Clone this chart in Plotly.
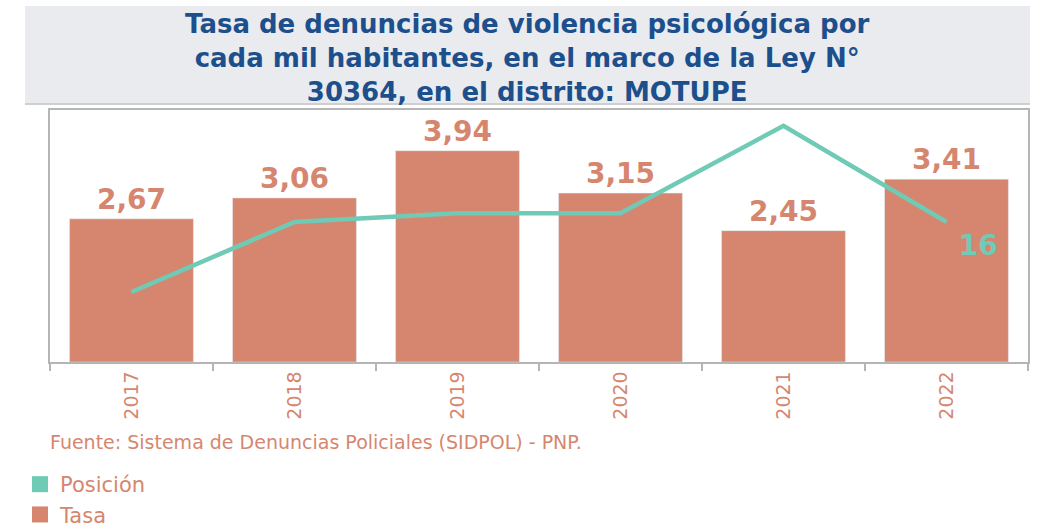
import plotly.graph_objects as go

years = ["2017", "2018", "2019", "2020", "2021", "2022"]
tasa = [2.67, 3.06, 3.94, 3.15, 2.45, 3.41]
posicion = [8, 16, 17, 17, 27, 16]
pos_labels = ["", "", "", "", "", "16"]

title_text = ("Tasa de denuncias de violencia psicológica por<br>"
              "cada mil habitantes, en el marco de la Ley N°<br>"
              "30364, en el distrito: MOTUPE")
source_text = "Fuente: Sistema de Denuncias Policiales (SIDPOL) - PNP."

BAR = "#d6866e"
LINE = "#6fcab6"
TITLE_C = "#1d4f8c"
FONT = "DejaVu Sans"

W, H = 1048, 531
L, R, T, B = 50, 20, 110, 169
pw, ph = W - L - R, H - T - B

def px_x(x):
    return (x - L) / pw

def px_y(y):
    return (H - B - y) / ph

fig = go.Figure()

fig.add_trace(go.Bar(
    x=years, y=tasa, marker_color=BAR, showlegend=False,
    texttemplate="%{y:.2f}", textposition="outside", cliponaxis=False,
    textfont=dict(family=FONT, size=28, color=BAR, weight="bold"),
    hoverinfo="skip",
))

fig.add_trace(go.Scatter(
    x=years, y=posicion, yaxis="y2", mode="lines+markers+text",
    line=dict(color=LINE, width=4.5), text=pos_labels,
    marker=dict(size=18, color="rgba(0,0,0,0)"),
    textposition="bottom right", cliponaxis=False,
    textfont=dict(family=FONT, size=28, color=LINE, weight="bold"),
    showlegend=False, hoverinfo="skip",
))

# legend entries
fig.add_trace(go.Scatter(x=[None], y=[None], mode="markers", name="Posición",
                         marker=dict(symbol="square", size=20, color=LINE)))
fig.add_trace(go.Scatter(x=[None], y=[None], mode="markers", name="Tasa",
                         marker=dict(symbol="square", size=20, color=BAR)))

fig.update_layout(
    width=W, height=H,
    margin=dict(l=L, r=R, t=T, b=B, autoexpand=False),
    paper_bgcolor="white", plot_bgcolor="white",
    separators=",.",
    bargap=0.24,
    font=dict(family=FONT, color=BAR),
    xaxis=dict(
        type="category", tickson="boundaries", ticks="outside", ticklen=7,
        tickcolor="#b5b5b5", tickwidth=1.5, tickangle=-90,
        tickfont=dict(family=FONT, size=19, color=BAR),
        showline=True, linecolor="#b5b5b5", linewidth=1.5, mirror=True,
        showgrid=False, automargin=False,
    ),
    yaxis=dict(range=[0, 4.70], showticklabels=False, showgrid=False,
               zeroline=False, showline=True, linecolor="#b5b5b5",
               linewidth=1.5, mirror=True, ticks="", automargin=False),
    yaxis2=dict(range=[0, 28.8], overlaying="y", side="right", visible=False),
    legend=dict(x=px_x(20), y=px_y(464), xanchor="left", yanchor="top",
                font=dict(family=FONT, size=21, color=BAR),
                tracegroupgap=0, itemsizing="trace",
                bgcolor="rgba(0,0,0,0)"),
    shapes=[
        dict(type="rect", xref="paper", yref="paper",
             x0=px_x(25), x1=px_x(1030), y0=px_y(104), y1=px_y(6),
             fillcolor="#e9ebef", line=dict(width=0), layer="below"),
        dict(type="line", xref="paper", yref="paper",
             x0=px_x(25), x1=px_x(1030), y0=px_y(104), y1=px_y(104),
             line=dict(color="#cfcfcf", width=2)),
    ],
    annotations=[
        dict(text=title_text, xref="paper", yref="paper",
             x=px_x(527), y=px_y(58), xanchor="center", yanchor="middle",
             showarrow=False, align="center",
             font=dict(family=FONT, size=26, color=TITLE_C, weight="bold")),
        dict(text=source_text, xref="paper", yref="paper",
             x=px_x(48), y=px_y(442), xanchor="left", yanchor="middle",
             showarrow=False,
             font=dict(family=FONT, size=19, color=BAR)),
    ],
)

fig.write_html(
    "out.html",
    config={"displayModeBar": False},
    post_script="document.body.style.margin='0';document.body.style.overflow='hidden';",
)
